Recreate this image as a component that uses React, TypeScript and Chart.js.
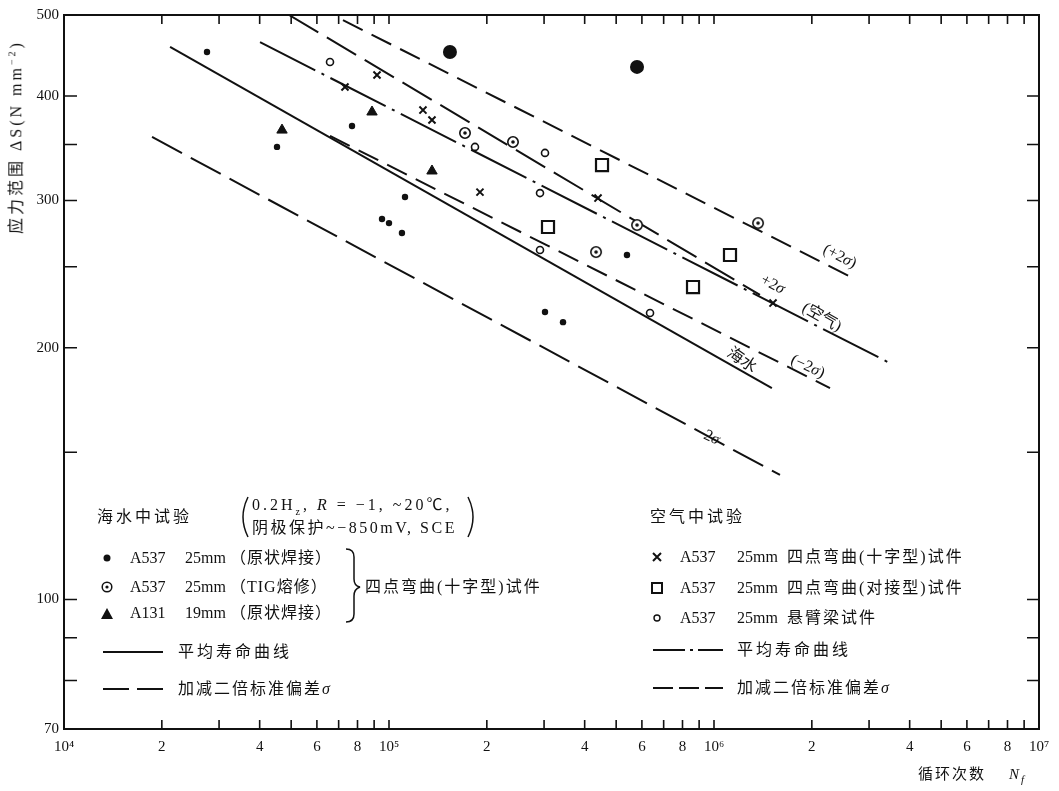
import React, { useEffect, useRef } from 'react';
import { Chart, registerables } from 'chart.js';

Chart.register(...registerables);

// ---------- axis ticks ----------
const xTickValues = [
  1e4, 2e4, 3e4, 4e4, 5e4, 6e4, 7e4, 8e4, 9e4,
  1e5, 2e5, 3e5, 4e5, 5e5, 6e5, 7e5, 8e5, 9e5,
  1e6, 2e6, 3e6, 4e6, 5e6, 6e6, 7e6, 8e6, 9e6, 1e7,
];
const xTickLabels = [
  '10⁴', '2', '', '4', '', '6', '', '8', '',
  '10⁵', '2', '', '4', '', '6', '', '8', '',
  '10⁶', '2', '', '4', '', '6', '', '8', '', '10⁷',
];
const yTickValues = [70, 80, 90, 100, 150, 200, 250, 300, 350, 400, 500];
const yTickLabels = ['70', '', '', '100', '', '200', '', '300', '', '400', '500'];

// ---------- seawater tests (four-point bending, cruciform) ----------
const seaWeldN = [27540, 45230, 76950, 112000, 95160, 100000, 109600, 539800, 302000, 343100];
const seaWeldS = [451.6, 347.7, 368.3, 302.9, 285.1, 281.9, 274.3, 258.2, 220.7, 214.6];
const seaWeldLargeN = [154000, 579600];
const seaWeldLargeS = [451.6, 433.4];
const seaTigN = [171300, 240700, 433500, 579600, 1366000];
const seaTigS = [361.3, 352.5, 260.3, 280.4, 281.9];
const seaA131N = [46860, 88660, 135600];
const seaA131S = [364.2, 382.8, 325.4];

// ---------- air tests ----------
const airCrossN = [73210, 91850, 127200, 135600, 190500, 439700, 1519000];
const airCrossS = [410.1, 423.9, 384.8, 374.5, 307.0, 302.0, 226.2];
const airButtN = [308500, 452300, 861900, 1120000];
const airButtS = [278.9, 330.8, 236.4, 258.2];
const airCantN = [65840, 183900, 291500, 302000, 291500, 635600];
const airCantS = [439.3, 347.7, 306.2, 342.0, 261.8, 220.1];

// ---------- S-N curves (end points) ----------
const seaMeanN = [21200, 1507000];
const seaMeanS = [458, 179];
const seaLowN = [18660, 1596000];
const seaLowS = [357.4, 140.9];
const seaHighN = [49250, 1385000];
const seaHighS = [500, 231.3];
const airMeanN = [40100, 3479000];
const airMeanS = [464, 191.7];
const airHighN = [72180, 2754000];
const airHighS = [493, 241];
const airLowN = [65840, 2275000];
const airLowS = [358.4, 179];

const INK = '#111';
const FONT = "'Liberation Serif', 'Times New Roman', 'Noto Sans CJK SC', serif";

const pts = (N: number[], S: number[]) => N.map((n, i) => ({ x: n, y: S[i] }));

function makeDotCircle() {
  const c = document.createElement('canvas');
  c.width = 14;
  c.height = 14;
  const g = c.getContext('2d')!;
  g.fillStyle = '#fff';
  g.beginPath();
  g.arc(7, 7, 5.2, 0, Math.PI * 2);
  g.fill();
  g.strokeStyle = INK;
  g.lineWidth = 1.6;
  g.stroke();
  g.fillStyle = INK;
  g.beginPath();
  g.arc(7, 7, 1.8, 0, Math.PI * 2);
  g.fill();
  return c;
}

const framePlugin = {
  id: 'frameTicks',
  afterDatasetsDraw(chart: any) {
    const { ctx, chartArea: a, scales } = chart;
    const x = scales.x;
    const y = scales.y;
    ctx.save();
    ctx.strokeStyle = INK;
    ctx.lineWidth = 2;
    ctx.strokeRect(a.left, a.top, a.right - a.left, a.bottom - a.top);
    ctx.lineWidth = 1.6;
    ctx.beginPath();
    xTickValues.forEach((v) => {
      const px = x.getPixelForValue(v);
      ctx.moveTo(px, a.bottom);
      ctx.lineTo(px, a.bottom - 9);
      ctx.moveTo(px, a.top);
      ctx.lineTo(px, a.top + 9);
    });
    yTickValues.forEach((v) => {
      const py = y.getPixelForValue(v);
      ctx.moveTo(a.left, py);
      ctx.lineTo(a.left + 13, py);
      ctx.moveTo(a.right, py);
      ctx.lineTo(a.right - 12, py);
    });
    ctx.stroke();
    ctx.restore();
  },
};

function T(props: { x: number; y: number; size?: number; ls?: number; children: any; style?: any }) {
  const { x, y, size = 16, ls = 0, children, style } = props;
  return (
    <div
      style={{
        position: 'absolute',
        left: x,
        top: y,
        transform: 'translateY(-50%)',
        fontSize: size,
        letterSpacing: ls,
        lineHeight: 1,
        whiteSpace: 'nowrap',
        color: INK,
        ...style,
      }}
    >
      {children}
    </div>
  );
}

function CurveLabel(props: { x: number; y: number; rot: number; children: any }) {
  const { x, y, rot, children } = props;
  return (
    <div
      style={{
        position: 'absolute',
        left: x,
        top: y,
        transform: `translate(-50%, -50%) rotate(${rot}deg)`,
        fontSize: 16,
        lineHeight: 1,
        whiteSpace: 'nowrap',
        color: INK,
      }}
    >
      {children}
    </div>
  );
}

export default function App() {
  const canvasRef = useRef<HTMLCanvasElement | null>(null);

  useEffect(() => {
    if (!canvasRef.current) return;
    const dotCircle = makeDotCircle();
    const line = (N: number[], S: number[], dash: number[], width = 2) => ({
      data: pts(N, S),
      showLine: true,
      borderColor: INK,
      borderWidth: width,
      borderDash: dash,
      pointRadius: 0,
      fill: false,
    });
    const chart = new Chart(canvasRef.current, {
      type: 'scatter',
      data: {
        datasets: [
          { label: 'A537 25mm 原状焊接', data: pts(seaWeldN, seaWeldS), pointStyle: 'circle', pointRadius: 3.2, backgroundColor: INK, borderColor: INK, borderWidth: 0 },
          { label: 'A537 25mm 原状焊接 (large)', data: pts(seaWeldLargeN, seaWeldLargeS), pointStyle: 'circle', pointRadius: 7, backgroundColor: INK, borderColor: INK, borderWidth: 0 },
          { label: 'A537 25mm TIG熔修', data: pts(seaTigN, seaTigS), pointStyle: dotCircle, pointRadius: 6 },
          { label: 'A131 19mm 原状焊接', data: pts(seaA131N, seaA131S), pointStyle: 'triangle', pointRadius: 6, backgroundColor: INK, borderColor: INK, borderWidth: 1 },
          { label: '空气 十字型', data: pts(airCrossN, airCrossS), pointStyle: 'crossRot', pointRadius: 5, borderColor: INK, borderWidth: 2 },
          { label: '空气 对接型', data: pts(airButtN, airButtS), pointStyle: 'rect', pointRadius: 8.5, backgroundColor: '#fff', borderColor: INK, borderWidth: 2.2 },
          { label: '空气 悬臂梁', data: pts(airCantN, airCantS), pointStyle: 'circle', pointRadius: 3.5, backgroundColor: '#fff', borderColor: INK, borderWidth: 1.6 },
          { label: '海水 平均', ...line(seaMeanN, seaMeanS, []) },
          { label: '海水 -2σ', ...line(seaLowN, seaLowS, [34, 10]) },
          { label: '海水 +2σ', ...line(seaHighN, seaHighS, [34, 10]) },
          { label: '空气 平均', ...line(airMeanN, airMeanS, [62, 7, 3, 7]) },
          { label: '空气 +2σ', ...line(airHighN, airHighS, [22, 10]) },
          { label: '空气 -2σ', ...line(airLowN, airLowS, [22, 10]) },
        ] as any,
      },
      options: {
        responsive: false,
        animation: false,
        devicePixelRatio: 1,
        layout: { padding: { top: 15, right: 20, left: 0, bottom: 0 } },
        plugins: { legend: { display: false }, tooltip: { enabled: false } },
        scales: {
          x: {
            type: 'logarithmic',
            min: 1e4,
            max: 1e7,
            grid: { display: false, drawTicks: false },
            border: { display: false },
            afterBuildTicks: (s: any) => {
              s.ticks = xTickValues.map((v) => ({ value: v }));
            },
            afterFit: (s: any) => {
              s.height = 62;
            },
            ticks: {
              autoSkip: false,
              maxRotation: 0,
              minRotation: 0,
              padding: 9,
              color: INK,
              font: { family: FONT, size: 15 },
              callback: (_v: any, i: number) => xTickLabels[i],
            },
          },
          y: {
            type: 'logarithmic',
            min: 70,
            max: 500,
            grid: { display: false, drawTicks: false },
            border: { display: false },
            afterBuildTicks: (s: any) => {
              s.ticks = yTickValues.map((v) => ({ value: v }));
            },
            afterFit: (s: any) => {
              s.width = 64;
            },
            ticks: {
              autoSkip: false,
              padding: 5,
              color: INK,
              font: { family: FONT, size: 15 },
              callback: (_v: any, i: number) => yTickLabels[i],
            },
          },
        },
      } as any,
      plugins: [framePlugin],
    });
    return () => chart.destroy();
  }, []);

  return (
    <div style={{ position: 'absolute', left: 0, top: 0, width: 1059, height: 791, background: '#fff', fontFamily: FONT, overflow: 'hidden' }}>
      <canvas ref={canvasRef} width={1059} height={791} style={{ position: 'absolute', left: 0, top: 0 }} />

      {/* axis titles */}
      <div
        style={{
          position: 'absolute',
          left: 16,
          top: 137,
          transform: 'translate(-50%, -50%) rotate(-90deg)',
          fontSize: 16,
          letterSpacing: 3,
          whiteSpace: 'nowrap',
          color: INK,
          lineHeight: 1,
        }}
      >
        应力范围 ΔS(N mm<sup style={{ fontSize: 10 }}>−2</sup>)
      </div>
      <T x={918} y={776} size={15} ls={2}>
        循环次数&nbsp;&nbsp;&nbsp;&nbsp;<i>N</i>
        <sub style={{ fontSize: 11 }}><i>f</i></sub>
      </T>

      {/* curve labels */}
      <CurveLabel x={840} y={256} rot={27}>(+2<i>σ</i>)</CurveLabel>
      <CurveLabel x={773} y={284} rot={27}>+2<i>σ</i></CurveLabel>
      <CurveLabel x={822} y={317} rot={30}>(空气)</CurveLabel>
      <CurveLabel x={742} y={360} rot={35}>海水</CurveLabel>
      <CurveLabel x={808} y={366} rot={25}>(−2<i>σ</i>)</CurveLabel>
      <CurveLabel x={712} y={437} rot={25}>2<i>σ</i></CurveLabel>

      {/* legend graphics */}
      <svg width={1059} height={791} style={{ position: 'absolute', left: 0, top: 0, pointerEvents: 'none' }}>
        <g stroke={INK} fill="none" strokeWidth={1.5}>
          <path d="M 248 497 Q 238 517 248 537" />
          <path d="M 468 497 Q 478 517 468 537" />
          <path d="M 346 549 Q 354 549 354 557 L 354 579 Q 354 586 360 587 Q 354 589 354 596 L 354 614 Q 354 622 346 622" />
        </g>
        <circle cx={107} cy={558} r={3.5} fill={INK} />
        <circle cx={107} cy={587} r={4.8} fill="#fff" stroke={INK} strokeWidth={1.5} />
        <circle cx={107} cy={587} r={1.6} fill={INK} />
        <path d="M 101 619 L 113 619 L 107 608 Z" fill={INK} />
        <line x1={103} y1={652} x2={163} y2={652} stroke={INK} strokeWidth={2} />
        <line x1={103} y1={689} x2={163} y2={689} stroke={INK} strokeWidth={2} strokeDasharray="26 8" />

        <path d="M 653 553 L 661 561 M 661 553 L 653 561" stroke={INK} strokeWidth={2} />
        <rect x={652} y={583} width={10} height={10} fill="#fff" stroke={INK} strokeWidth={2} />
        <circle cx={657} cy={618} r={3} fill="#fff" stroke={INK} strokeWidth={1.4} />
        <line x1={653} y1={650} x2={723} y2={650} stroke={INK} strokeWidth={2} strokeDasharray="32 5 3 5" />
        <line x1={653} y1={688} x2={723} y2={688} stroke={INK} strokeWidth={2} strokeDasharray="20 6" />
      </svg>

      {/* left legend text */}
      <T x={97} y={517} ls={3}>海水中试验</T>
      <T x={252} y={507} size={16} ls={3}>
        0.2H<sub style={{ fontSize: 10 }}>z</sub>, <i>R</i> = −1, ~20℃,
      </T>
      <T x={252} y={528} size={16} ls={2.5}>阴极保护~−850mV, SCE</T>
      <T x={130} y={558}>A537</T>
      <T x={185} y={558}>25mm</T>
      <T x={230} y={558} ls={1}>（原状焊接）</T>
      <T x={130} y={587}>A537</T>
      <T x={185} y={587}>25mm</T>
      <T x={230} y={587} ls={1}>（TIG熔修）</T>
      <T x={130} y={613}>A131</T>
      <T x={185} y={613}>19mm</T>
      <T x={230} y={613} ls={1}>（原状焊接）</T>
      <T x={365} y={587} ls={2}>四点弯曲(十字型)试件</T>
      <T x={178} y={652} ls={3}>平均寿命曲线</T>
      <T x={178} y={689} ls={2}>加减二倍标准偏差<i>σ</i></T>

      {/* right legend text */}
      <T x={650} y={517} ls={3}>空气中试验</T>
      <T x={680} y={557}>A537</T>
      <T x={737} y={557}>25mm</T>
      <T x={787} y={557} ls={2}>四点弯曲(十字型)试件</T>
      <T x={680} y={588}>A537</T>
      <T x={737} y={588}>25mm</T>
      <T x={787} y={588} ls={2}>四点弯曲(对接型)试件</T>
      <T x={680} y={618}>A537</T>
      <T x={737} y={618}>25mm</T>
      <T x={787} y={618} ls={2}>悬臂梁试件</T>
      <T x={737} y={650} ls={3}>平均寿命曲线</T>
      <T x={737} y={688} ls={2}>加减二倍标准偏差<i>σ</i></T>
    </div>
  );
}
